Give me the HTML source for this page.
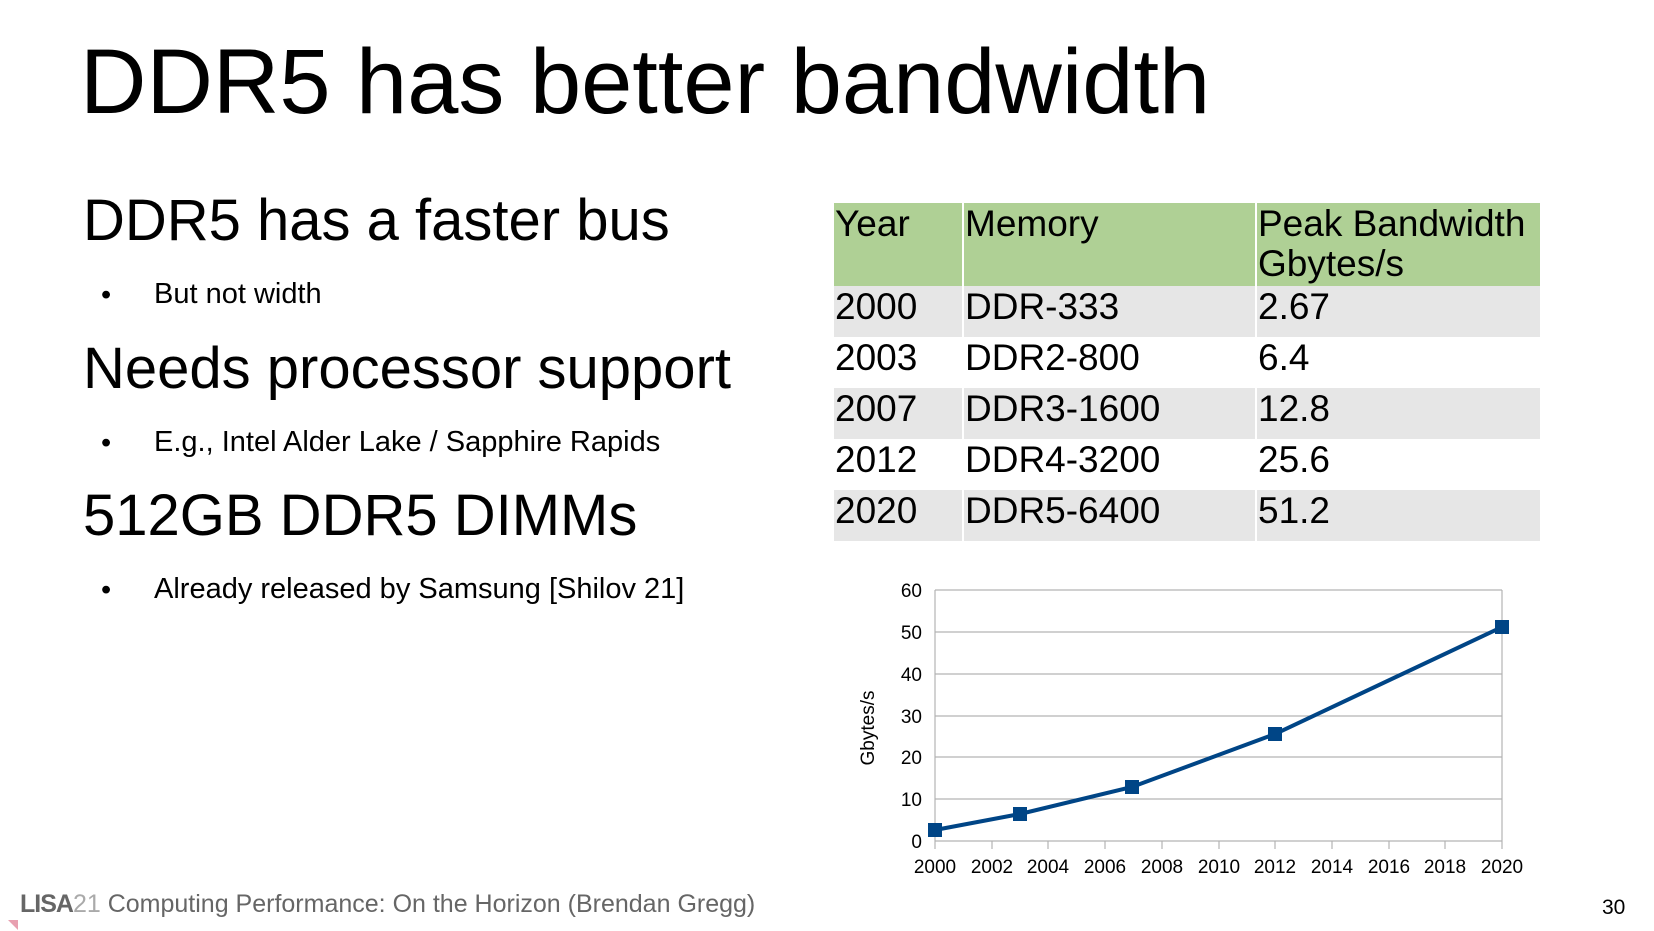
<!DOCTYPE html><html><head><meta charset="utf-8"><style>
body{margin:0;width:1654px;height:931px;background:#fff;position:relative;overflow:hidden;font-family:"Liberation Sans",sans-serif;color:#000}
.a{position:absolute;white-space:nowrap}
table{position:absolute;left:834px;top:203px;width:706px;border-collapse:collapse;font-size:37px}
td{padding:1px 0 0 1px;vertical-align:top;border-left:2px solid #fff;line-height:40px}
td:first-child{border-left:none}
</style></head><body>
<div class="a" style="left:80px;top:30px;font-size:92px">DDR5 has better bandwidth</div>
<div class="a" style="left:83px;top:187px;font-size:58px">DDR5 has a faster bus</div>
<div class="a" style="left:101px;top:279px;font-size:29px">•</div>
<div class="a" style="left:154px;top:278px;font-size:29px">But not width</div>
<div class="a" style="left:83px;top:335px;font-size:58px">Needs processor support</div>
<div class="a" style="left:101px;top:427px;font-size:29px">•</div>
<div class="a" style="left:154px;top:426px;font-size:29px">E.g., Intel Alder Lake / Sapphire Rapids</div>
<div class="a" style="left:83px;top:482px;font-size:58px">512GB DDR5 DIMMs</div>
<div class="a" style="left:101px;top:574px;font-size:29px">•</div>
<div class="a" style="left:154px;top:573px;font-size:29px">Already released by Samsung [Shilov 21]</div>
<table>
<tr style="background:#afd095;height:83px"><td style="width:127px">Year</td><td style="width:290px">Memory</td><td>Peak Bandwidth<br>Gbytes/s</td></tr>
<tr style="background:#e6e6e6;height:51px"><td>2000</td><td>DDR-333</td><td>2.67</td></tr>
<tr style="height:51px"><td>2003</td><td>DDR2-800</td><td>6.4</td></tr>
<tr style="background:#e6e6e6;height:51px"><td>2007</td><td>DDR3-1600</td><td>12.8</td></tr>
<tr style="height:51px"><td>2012</td><td>DDR4-3200</td><td>25.6</td></tr>
<tr style="background:#e6e6e6;height:51px"><td>2020</td><td>DDR5-6400</td><td>51.2</td></tr>
</table>
<svg class="a" style="left:0;top:0" width="1654" height="931" font-family="Liberation Sans" font-size="19">
<g stroke="#b3b3b3" stroke-width="1.2">
<line x1="935" y1="590" x2="1502" y2="590"/><line x1="935" y1="632" x2="1502" y2="632"/><line x1="935" y1="674" x2="1502" y2="674"/><line x1="935" y1="716" x2="1502" y2="716"/><line x1="935" y1="757" x2="1502" y2="757"/><line x1="935" y1="799" x2="1502" y2="799"/><line x1="935" y1="841" x2="1502" y2="841"/>
<line x1="935" y1="590" x2="935" y2="849"/><line x1="1502" y1="590" x2="1502" y2="849"/>
<line x1="992" y1="841" x2="992" y2="849"/><line x1="1048" y1="841" x2="1048" y2="849"/><line x1="1105" y1="841" x2="1105" y2="849"/><line x1="1162" y1="841" x2="1162" y2="849"/><line x1="1219" y1="841" x2="1219" y2="849"/><line x1="1275" y1="841" x2="1275" y2="849"/><line x1="1332" y1="841" x2="1332" y2="849"/><line x1="1389" y1="841" x2="1389" y2="849"/><line x1="1445" y1="841" x2="1445" y2="849"/>
</g>
<g text-anchor="end"><text x="922" y="597">60</text><text x="922" y="639">50</text><text x="922" y="681">40</text><text x="922" y="723">30</text><text x="922" y="764">20</text><text x="922" y="806">10</text><text x="922" y="848">0</text></g>
<g text-anchor="middle"><text x="935" y="873">2000</text><text x="992" y="873">2002</text><text x="1048" y="873">2004</text><text x="1105" y="873">2006</text><text x="1162" y="873">2008</text><text x="1219" y="873">2010</text><text x="1275" y="873">2012</text><text x="1332" y="873">2014</text><text x="1389" y="873">2016</text><text x="1445" y="873">2018</text><text x="1502" y="873">2020</text></g>
<text transform="translate(874,728) rotate(-90)" text-anchor="middle">Gbytes/s</text>
<polyline points="935,830 1020,814 1132,787 1275,734 1502,627" fill="none" stroke="#004586" stroke-width="4"/>
<g fill="#004586"><rect x="928" y="823" width="14" height="14"/><rect x="1013" y="807" width="14" height="14"/><rect x="1125" y="780" width="14" height="14"/><rect x="1268" y="727" width="14" height="14"/><rect x="1495" y="620" width="14" height="14"/></g>
<polygon points="8,920 18,920 18,930" fill="#e8a0b0"/>
</svg>
<div class="a" style="left:20px;top:890px;font-size:25px;color:#666"><b style="letter-spacing:-1px">LISA</b><span style="color:#aaa">21</span> Computing Performance: On the Horizon (Brendan Gregg)</div>
<div class="a" style="left:1602px;top:896px;font-size:21px">30</div>
</body></html>
